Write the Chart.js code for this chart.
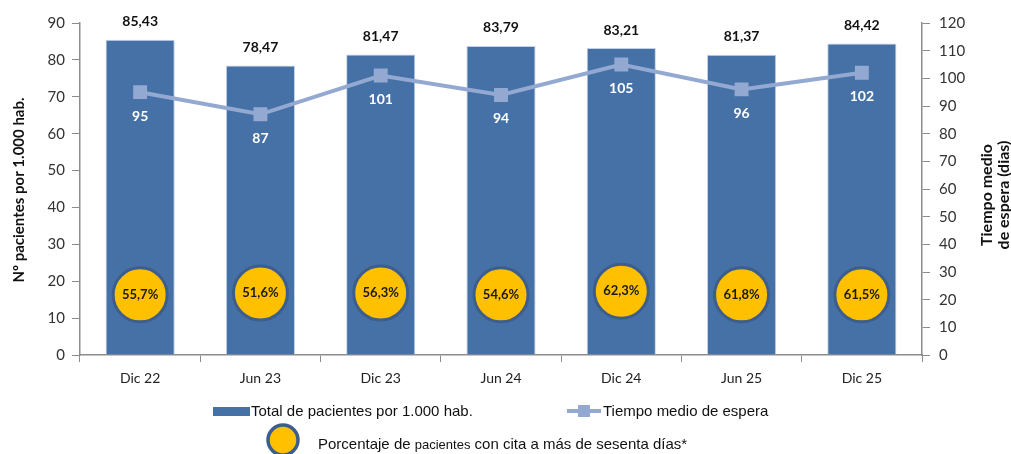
<!DOCTYPE html>
<html>
<head>
<meta charset="utf-8">
<script src="https://cdn.jsdelivr.net/npm/chart.js@4"></script>
<style>
  html, body { margin: 0; padding: 0; background: #fff; }
  #wrap { width: 1011px; height: 454px; position: relative; }
</style>
</head>
<body>
<div id="wrap"><canvas id="chart_espera"></canvas></div>
<script>
// data
var periodos = ['Dic 22', 'Jun 23', 'Dic 23', 'Jun 24', 'Dic 24', 'Jun 25', 'Dic 25'];
var pacientesPorMil = [85.43, 78.47, 81.47, 83.79, 83.21, 81.37, 84.42];
var tiempoMedio = [95, 87, 101, 94, 105, 96, 102];
var porcentajeSesenta = [55.7, 51.6, 56.3, 54.6, 62.3, 61.8, 61.5];
// height (left axis units) where each percentage bubble sits
var alturaBurbuja = [16.3, 16.8, 16.8, 16.3, 17.3, 16.3, 16.3];

var leftTicks = [0, 10, 20, 30, 40, 50, 60, 70, 80, 90];
var rightTicks = [0, 10, 20, 30, 40, 50, 60, 70, 80, 90, 100, 110, 120];

var FONT = 'Lato, "Open Sans", sans-serif';
var BAR_BLUE = '#4571a6';
var LINE_BLUE = '#93a9d2';
var AXIS_GREY = '#8c8c8c';
var AREA = {top: 23, bottom: 355};

function fmtComa(v, d) {
    return v.toFixed(d).replace('.', ',');
}

var chart_espera = new Chart(document.getElementById('chart_espera'), {
    type: 'bar',
    data: {
        labels: periodos,
        datasets: [
            {
                type: 'line',
                label: 'Porcentaje de pacientes con cita a más de sesenta días*',
                data: alturaBurbuja,
                yAxisID: 'y',
                showLine: false,
                pointRadius: 27,
                pointHoverRadius: 27,
                pointBackgroundColor: '#ffc000',
                pointBorderColor: '#3d5d8c',
                pointBorderWidth: 3,
                order: 0
            },
            {
                type: 'line',
                label: 'Tiempo medio de espera',
                data: tiempoMedio,
                yAxisID: 'y1',
                borderColor: LINE_BLUE,
                borderWidth: 4,
                pointStyle: 'rect',
                pointRadius: 7,
                pointHoverRadius: 7,
                pointBackgroundColor: LINE_BLUE,
                pointBorderColor: LINE_BLUE,
                tension: 0,
                order: 1
            },
            {
                label: 'Total de pacientes por 1.000 hab.',
                data: pacientesPorMil,
                yAxisID: 'y',
                backgroundColor: BAR_BLUE,
                borderColor: '#c5d2e6',
                borderWidth: {top: 1, left: 1, right: 1, bottom: 0},
                barPercentage: 0.575,
                categoryPercentage: 1,
                order: 2
            }
        ]
    },
    options: {
        animation: false,
        responsive: true,
        maintainAspectRatio: false,
        layout: {
            autoPadding: false,
            padding: {top: AREA.top, left: 0, right: 0, bottom: 0}
        },
        plugins: {
            legend: {display: false},
            tooltip: {enabled: false}
        },
        scales: {
            x: {
                offset: true,
                grid: {
                    offset: true,
                    drawOnChartArea: false,
                    drawTicks: true,
                    tickLength: 7,
                    color: AXIS_GREY
                },
                border: {color: AXIS_GREY, width: 1.5},
                ticks: {
                    color: '#222',
                    padding: 8,
                    font: {family: FONT, size: 14}
                },
                afterFit: function(scale) {
                    scale.height = 454 - AREA.bottom;
                }
            },
            y: {
                position: 'left',
                min: 0,
                max: 90,
                afterBuildTicks: function(scale) {
                    scale.ticks = leftTicks.map(function(v) { return {value: v}; });
                },
                grid: {
                    drawOnChartArea: false,
                    drawTicks: true,
                    tickLength: 8,
                    color: AXIS_GREY
                },
                border: {color: AXIS_GREY, width: 1.5},
                ticks: {
                    color: '#333',
                    padding: 7,
                    font: {family: FONT, size: 15}
                },
                afterFit: function(scale) { scale.width = 80; }
            },
            y1: {
                position: 'right',
                min: 0,
                max: 120,
                afterBuildTicks: function(scale) {
                    scale.ticks = rightTicks.map(function(v) { return {value: v}; });
                },
                grid: {
                    drawOnChartArea: false,
                    drawTicks: true,
                    tickLength: 8,
                    color: AXIS_GREY
                },
                border: {color: AXIS_GREY, width: 1.5},
                ticks: {
                    color: '#333',
                    padding: 9,
                    font: {family: FONT, size: 15}
                },
                afterFit: function(scale) { scale.width = 89; }
            }
        }
    },
    plugins: [{
        id: 'whiteBg',
        beforeDraw: function(chart) {
            var ctx = chart.ctx;
            ctx.save();
            ctx.fillStyle = 'white';
            ctx.fillRect(0, 0, chart.width, chart.height);
            ctx.restore();
        }
    }, {
        id: 'etiquetas',
        afterDatasetsDraw: function(chart) {
            var ctx = chart.ctx;
            ctx.save();
            ctx.textAlign = 'center';
            ctx.textBaseline = 'middle';

            // bar values above the bars
            var barMeta = chart.getDatasetMeta(2);
            ctx.fillStyle = '#111';
            ctx.font = 'bold 14px ' + FONT;
            barMeta.data.forEach(function(el, i) {
                ctx.fillText(fmtComa(pacientesPorMil[i], 2), el.x, el.y - 18);
            });

            // waiting time under each marker
            var lineMeta = chart.getDatasetMeta(1);
            ctx.fillStyle = '#ffffff';
            lineMeta.data.forEach(function(el, i) {
                ctx.fillText(String(tiempoMedio[i]), el.x, el.y + 24);
            });

            // percentages inside the bubbles
            var circMeta = chart.getDatasetMeta(0);
            ctx.fillStyle = '#1a1a1a';
            ctx.font = 'bold 13px ' + FONT;
            circMeta.data.forEach(function(el, i) {
                ctx.fillText(fmtComa(porcentajeSesenta[i], 1) + '%', el.x, el.y);
            });
            ctx.restore();
        }
    }, {
        id: 'titulosYLeyenda',
        afterDraw: function(chart) {
            var ctx = chart.ctx;
            ctx.save();
            ctx.fillStyle = '#111';
            ctx.textAlign = 'center';
            ctx.textBaseline = 'middle';
            ctx.font = 'bold 15px ' + FONT;

            // left axis title
            ctx.save();
            ctx.translate(19, 190);
            ctx.rotate(-Math.PI / 2);
            ctx.fillText('Nº pacientes por 1.000 hab.', 0, 0);
            ctx.restore();

            // right axis title, two lines
            ctx.font = 'bold 16px ' + FONT;
            ctx.save();
            ctx.translate(995, 195);
            ctx.rotate(-Math.PI / 2);
            ctx.fillText('Tiempo medio', 0, -8);
            ctx.fillText('de espera (dias)', 0, 9);
            ctx.restore();

            // legend row 1
            var legFont = '"Liberation Sans", Arial, sans-serif';
            ctx.textAlign = 'left';
            ctx.fillStyle = BAR_BLUE;
            ctx.fillRect(213, 407, 37, 9);
            ctx.fillStyle = '#111';
            ctx.font = '15px ' + legFont;
            ctx.fillText(chart.data.datasets[2].label, 251, 412);

            ctx.strokeStyle = LINE_BLUE;
            ctx.lineWidth = 4;
            ctx.beginPath();
            ctx.moveTo(567, 411);
            ctx.lineTo(601, 411);
            ctx.stroke();
            ctx.fillStyle = LINE_BLUE;
            ctx.fillRect(578, 405, 12, 12);
            ctx.fillStyle = '#111';
            ctx.fillText(chart.data.datasets[1].label, 603, 412);

            // legend row 2
            ctx.beginPath();
            ctx.arc(283, 440, 15, 0, Math.PI * 2);
            ctx.fillStyle = '#ffc000';
            ctx.fill();
            ctx.lineWidth = 3.5;
            ctx.strokeStyle = '#3d5d8c';
            ctx.stroke();

            ctx.fillStyle = '#111';
            var x = 318;
            var partes = [
                ['Porcentaje de ', 15],
                ['pacientes', 13],
                [' con cita a más de sesenta días*', 15]
            ];
            partes.forEach(function(p) {
                ctx.font = p[1] + 'px ' + legFont;
                ctx.fillText(p[0], x, 445);
                x += ctx.measureText(p[0]).width;
            });
            ctx.restore();
        }
    }]
});
</script>
</body>
</html>
